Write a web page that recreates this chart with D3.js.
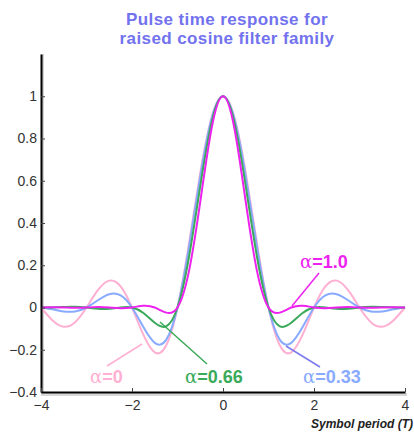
<!DOCTYPE html>
<meta charset="utf-8">
<style>

body { margin: 0; background: #fff; }

.title {
  font: bold 17px "Liberation Sans", Arial, sans-serif;
  letter-spacing: 0.4px;
  fill: #7272ee;
  text-anchor: middle;
}

.axis text {
  font: 14px "Liberation Sans", Arial, sans-serif;
  fill: #333;
}

.curve {
  fill: none;
  stroke-width: 2;
}

.note {
  font: bold 18px "Liberation Sans", Arial, sans-serif;
}

</style>
<svg width="414" height="433"></svg>
<script src="https://d3js.org/d3.v7.min.js"></script>
<script>

// sample times (symbol periods)
var times = [-4, -3.75, -3.5, -3.25, -3, -2.75, -2.5, -2.25, -2, -1.75, -1.5, -1.25, -1, -0.75, -0.5, -0.25,
             0, 0.25, 0.5, 0.75, 1, 1.25, 1.5, 1.75, 2, 2.25, 2.5, 2.75, 3, 3.25, 3.5, 3.75, 4];

var alpha0 = [0, -0.0600, -0.0909, -0.0693, 0, 0.0818, 0.1273, 0.1000, 0, -0.1286, -0.2122, -0.1801, 0, 0.3001, 0.6366, 0.9003,
              1, 0.9003, 0.6366, 0.3001, 0, -0.1801, -0.2122, -0.1286, 0, 0.1000, 0.1273, 0.0818, 0, -0.0693, -0.0909, -0.0600, 0];

var alpha033 = [0, -0.0086, -0.0185, -0.0188, 0, 0.0342, 0.0630, 0.0573, 0, -0.0928, -0.1674, -0.1531, 0, 0.2833, 0.6206, 0.8946,
                1, 0.8946, 0.6206, 0.2833, 0, -0.1531, -0.1674, -0.0928, 0, 0.0573, 0.0630, 0.0342, 0, -0.0188, -0.0185, -0.0086, 0];

var alpha066 = [0, 0.0002, 0.0025, 0.0036, 0, -0.0056, -0.0058, 0.0006, 0, -0.0262, -0.0726, -0.0891, 0, 0.2368, 0.5749, 0.8776,
                1, 0.8776, 0.5749, 0.2368, 0, -0.0891, -0.0726, -0.0262, 0, 0.0006, -0.0058, -0.0056, 0, 0.0036, 0.0025, 0.0002, 0];

var alpha1 = [0, 0.0008, 0, -0.0012, 0, 0.0020, 0, -0.0037, 0, 0.0081, 0, -0.0243, 0, 0.1698, 0.5, 0.8488,
              1, 0.8488, 0.5, 0.1698, 0, -0.0243, 0, 0.0081, 0, -0.0037, 0, 0.0020, 0, -0.0012, 0, 0.0008, 0];

var yTicks = [-0.4, -0.2, 0, 0.2, 0.4, 0.6, 0.8, 1];
var xTicks = [-4, -2, 0, 2, 4];

var series = [
  {name: "0", values: alpha0, color: "#ffb0d2"},
  {name: "0.33", values: alpha033, color: "#88aaff"},
  {name: "0.66", values: alpha066, color: "#3aaa5a"},
  {name: "1.0", values: alpha1, color: "#ee22ee"}
];

var svg = d3.select("svg");

var x = d3.scaleLinear().domain([-4, 4]).range([41, 405]);
var y = d3.scaleLinear().domain([-0.4, 1.2]).range([392, 54]);

svg.append("text").attr("class", "title").attr("x", 227).attr("y", 25).text("Pulse time response for");
svg.append("text").attr("class", "title").attr("x", 227).attr("y", 44).text("raised cosine filter family");

// gray shadow of the axes
svg.append("line").attr("x1", 43).attr("x2", 43).attr("y1", y.range()[1]).attr("y2", 395)
    .attr("stroke", "#d0d0d0").attr("stroke-width", 2);
svg.append("line").attr("x1", 41).attr("x2", 407).attr("y1", 394.5).attr("y2", 394.5)
    .attr("stroke", "#d8d8d8").attr("stroke-width", 3);

var line = d3.line()
    .x(function(d, i) { return x(times[i]); })
    .y(function(d) { return y(d); })
    .curve(d3.curveNatural);

svg.selectAll(".curve")
    .data(series)
  .enter().append("path")
    .attr("class", "curve")
    .attr("stroke", function(d) { return d.color; })
    .attr("stroke-width", function(d) { return d.name === "0" ? 2.5 : 2; })
    .attr("d", function(d) { return line(d.values); });

var yAxis = svg.append("g")
    .attr("class", "axis")
    .attr("transform", "translate(" + x(-4) + ",0)")
    .call(d3.axisLeft(y).tickValues(yTicks).tickSizeInner(-4).tickSizeOuter(0).tickPadding(4)
      .tickFormat(d3.format("~g")));

var xAxis = svg.append("g")
    .attr("class", "axis")
    .attr("transform", "translate(0," + y(-0.4) + ")")
    .call(d3.axisBottom(x).tickValues(xTicks).tickSizeInner(-4).tickSizeOuter(0).tickPadding(8)
      .tickFormat(d3.format("~g")));

svg.selectAll(".axis .domain").attr("stroke", "#000").attr("stroke-width", 2);
svg.selectAll(".axis .tick line").attr("stroke", "#444");

svg.append("text")
    .attr("x", 413).attr("y", 428)
    .attr("text-anchor", "end")
    .style("font", "italic bold 12px 'Liberation Sans', Arial, sans-serif")
    .style("fill", "#222")
    .text("Symbol period (T)");

// labels with leader lines
var notes = [
  {s: 0, tx: 90, ty: 383, lx1: 107, ly1: 366, lx2: 142, ly2: 344, lc: "#ffb0d2"},
  {s: 2, tx: 185, ty: 383, lx1: 207, ly1: 364, lx2: 160, ly2: 322, lc: "#3aaa5a"},
  {s: 1, tx: 303, ty: 383, lx1: 320, ly1: 367, lx2: 286, ly2: 346, lc: "#7a7aee"},
  {s: 3, tx: 300, ty: 268, lx1: 319, ly1: 273, lx2: 292, ly2: 306, lc: "#ee22ee"}
];

notes.forEach(function(n) {
  var d = series[n.s];
  svg.append("line")
      .attr("x1", n.lx1).attr("y1", n.ly1).attr("x2", n.lx2).attr("y2", n.ly2)
      .attr("stroke", n.lc).attr("stroke-width", 1.5);
  var t = svg.append("text").attr("class", "note").attr("x", n.tx).attr("y", n.ty).attr("fill", d.color);
  t.append("tspan").style("font-weight", "normal").style("font-family", "'DejaVu Serif', serif").text("α");
  t.append("tspan").text("=" + d.name);
});

</script>
